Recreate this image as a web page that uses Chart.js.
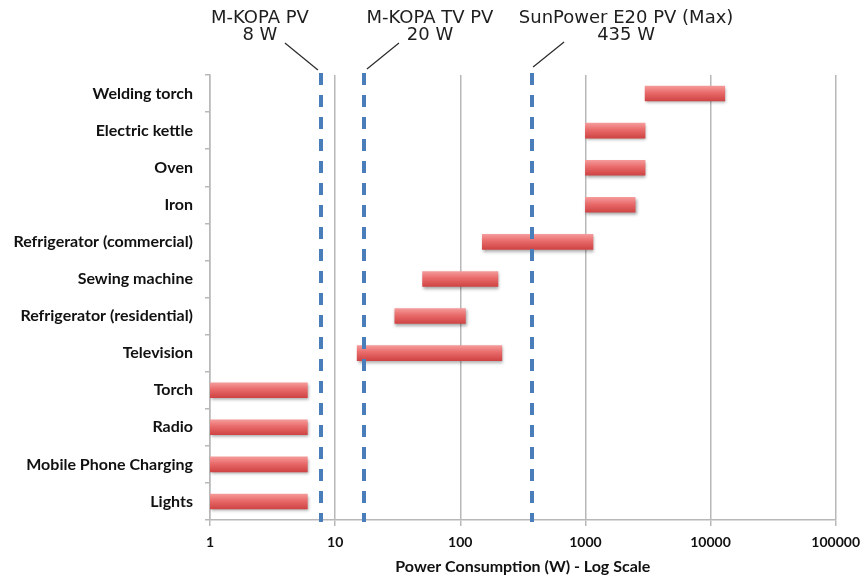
<!DOCTYPE html>
<html>
<head>
<meta charset="utf-8">
<script src="https://cdn.jsdelivr.net/npm/chart.js@4.4.1/dist/chart.umd.min.js"></script>
<style>
  html, body { margin: 0; padding: 0; background: #ffffff; }
  #wrap { width: 868px; height: 582px; position: relative; }
</style>
</head>
<body>
<div id="wrap"><canvas id="c" width="868" height="582"></canvas></div>
<script>
// ---- data ----
const categories = [
  'Welding torch', 'Electric kettle', 'Oven', 'Iron',
  'Refrigerator (commercial)', 'Sewing machine', 'Refrigerator (residential)',
  'Television', 'Torch', 'Radio', 'Mobile Phone Charging', 'Lights'
];
const minPower = [3000, 1000, 1000, 1000, 150, 50, 30, 15, 1, 1, 1, 1];
const maxPower = [13000, 3000, 3000, 2500, 1150, 200, 110, 215, 6, 6, 6, 6];
const xTickValues = [1, 10, 100, 1000, 10000, 100000];
const markerValues = [7.7, 17, 375];
const markerLabels = [
  ['M-KOPA PV', '8 W'],
  ['M-KOPA TV PV', '20 W'],
  ['SunPower E20 PV (Max)', '435 W']
];
const xTitle = 'Power Consumption (W) - Log Scale';

// ---- styles for markers (positions relative to marker line) ----
const markerStyle = [
  { labelDx: -61, leadFrom: [-3, 70], leadTo: [-36, 43] },
  { labelDx: 66, leadFrom: [3, 69], leadTo: [35, 43] },
  { labelDx: 94, leadFrom: [1, 67], leadTo: [32, 42] }
];

const rangeData = minPower.map((v, i) => [v, maxPower[i]]);

function barGradient(ctx) {
  const chart = ctx.chart;
  const ys = chart.scales.y;
  if (!chart.chartArea || !ys || ctx.dataIndex === undefined) return '#e36464';
  const y = ys.getPixelForValue(ctx.dataIndex);
  const g = chart.ctx.createLinearGradient(0, y - 7.5, 0, y + 7.5);
  g.addColorStop(0, '#f59a9a');
  g.addColorStop(0.45, '#e96a6a');
  g.addColorStop(1, '#cf4444');
  return g;
}

const fx = {
  id: 'fx',
  beforeDatasetsDraw(chart) {
    const c = chart.ctx;
    c.save();
    c.shadowColor = 'rgba(0,0,0,0.35)';
    c.shadowBlur = 3;
    c.shadowOffsetX = 1;
    c.shadowOffsetY = 2;
  },
  afterDatasetsDraw(chart) {
    const c = chart.ctx;
    c.restore();
    const xs = chart.scales.x;
    const area = chart.chartArea;
    c.save();
    // dashed markers
    markerValues.forEach((v) => {
      const x = Math.round(xs.getPixelForValue(v));
      c.beginPath();
      c.strokeStyle = '#4a7ebb';
      c.lineWidth = 4;
      c.setLineDash([12, 10]);
      c.moveTo(x, area.top - 2);
      c.lineTo(x, area.bottom + 2);
      c.stroke();
    });
    c.setLineDash([]);
    // labels & leaders
    c.fillStyle = '#1e1e1e';
    c.font = '18px "DejaVu Sans"';
    c.textAlign = 'center';
    c.textBaseline = 'alphabetic';
    markerValues.forEach((v, i) => {
      const x = xs.getPixelForValue(v);
      const s = markerStyle[i];
      const lines = markerLabels[i];
      c.fillText(lines[0], x + s.labelDx, 23);
      c.fillText(lines[1], x + s.labelDx, 40);
      c.beginPath();
      c.strokeStyle = '#2a2a2a';
      c.lineWidth = 1.2;
      c.moveTo(x + s.leadFrom[0], s.leadFrom[1]);
      c.lineTo(x + s.leadTo[0], s.leadTo[1]);
      c.stroke();
    });
    c.restore();
  }
};

new Chart(document.getElementById('c'), {
  type: 'bar',
  data: {
    labels: categories,
    datasets: [{
      data: rangeData,
      backgroundColor: barGradient,
      borderWidth: 0,
      borderSkipped: false,
      barThickness: 15
    }]
  },
  options: {
    indexAxis: 'y',
    responsive: false,
    animation: false,
    devicePixelRatio: 1,
    layout: { padding: { top: 75, right: 28, left: 0, bottom: 0 } },
    plugins: { legend: { display: false }, tooltip: { enabled: false } },
    scales: {
      x: {
        type: 'logarithmic',
        min: 1,
        max: 100000,
        afterBuildTicks(scale) {
          scale.ticks = xTickValues.map(v => ({ value: v }));
        },
        afterFit(scale) { scale.height = 62; },
        ticks: {
          autoSkip: false,
          maxRotation: 0,
          padding: 8,
          color: '#111',
          font: { family: 'Lato', weight: 'bold', size: 14 },
          callback: (v) => String(v)
        },
        grid: {
          color: '#b8b8b8',
          lineWidth: 1.5,
          tickLength: 6,
          tickColor: '#b8b8b8'
        },
        border: { color: '#b8b8b8', width: 1.5 },
        title: {
          display: true,
          text: xTitle,
          color: '#111',
          font: { family: 'Lato', weight: 'bold', size: 16 },
          padding: { top: 6, bottom: 6 }
        }
      },
      y: {
        afterFit(scale) { scale.width = 210; },
        ticks: {
          color: '#111',
          padding: 12,
          font: { family: 'Lato', weight: 'bold', size: 16 }
        },
        grid: {
          offset: true,
          drawOnChartArea: false,
          tickLength: 5,
          color: '#b8b8b8',
          tickColor: '#b8b8b8',
          lineWidth: 1.5
        },
        border: { color: '#b8b8b8', width: 1.5 }
      }
    }
  },
  plugins: [fx]
});
</script>
</body>
</html>
